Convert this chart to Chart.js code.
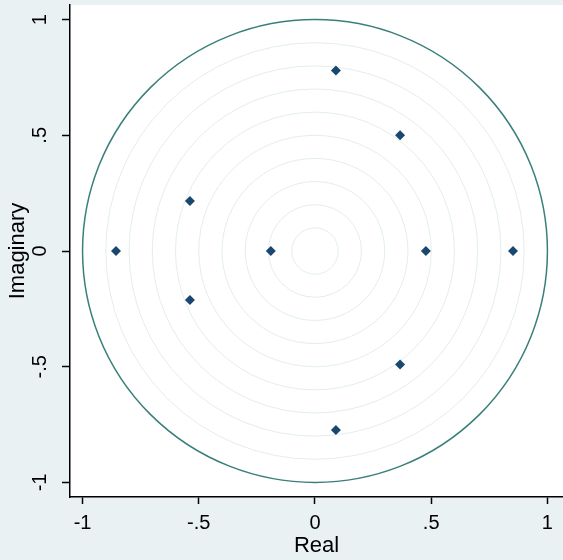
<!DOCTYPE html>
<html>
<head>
<meta charset="utf-8">
<script src="https://cdn.jsdelivr.net/npm/chart.js@4"></script>
<style>
  body { margin: 0; background: #eaf1f3; }
  #wrap { width: 563px; height: 560px; }
</style>
</head>
<body>
<div id="wrap"><canvas id="RootsChart" width="563" height="560"></canvas></div>
<script>
// eigenvalues
const realParts = [0.09, 0.366, -0.538, -0.856, -0.19, 0.477, 0.852, -0.538, 0.366, 0.09];
const imagParts = [0.78, 0.50, 0.216, 0, 0, 0, 0, -0.212, -0.49, -0.773];

const tickValues = [-1, -0.5, 0, 0.5, 1];
const tickLabels = ['-1', '-.5', '0', '.5', '1'];
const ringRadii = [0.1, 0.2, 0.3, 0.4, 0.5, 0.6, 0.7, 0.8, 0.9];
const unitRadius = 1;

const fontFamily = "Arial, 'Liberation Sans', sans-serif";

function tickText(value) {
    const i = tickValues.indexOf(value);
    return i >= 0 ? tickLabels[i] : '';
}

function noPadding(axis) {
    axis.paddingTop = 0;
    axis.paddingBottom = 0;
    axis.paddingLeft = 0;
    axis.paddingRight = 0;
}

const backgroundPlugin = {
    id: 'stataBackground',
    beforeDraw(chart) {
        const ctx = chart.ctx;
        const a = chart.chartArea;
        ctx.save();
        ctx.fillStyle = '#eaf1f3';
        ctx.fillRect(0, 0, chart.width, chart.height);
        ctx.fillStyle = '#ffffff';
        ctx.fillRect(a.left, a.top, a.right - a.left, a.bottom - a.top);
        ctx.restore();
    }
};

const circlesPlugin = {
    id: 'unitCircle',
    beforeDatasetsDraw(chart) {
        const ctx = chart.ctx;
        const xs = chart.scales.x;
        const ys = chart.scales.y;
        const cx = xs.getPixelForValue(0);
        const cy = ys.getPixelForValue(0);
        const ring = (r, color, width) => {
            const rx = xs.getPixelForValue(r) - cx;
            const ry = cy - ys.getPixelForValue(r);
            ctx.beginPath();
            ctx.ellipse(cx, cy, rx, ry, 0, 0, Math.PI * 2);
            ctx.strokeStyle = color;
            ctx.lineWidth = width;
            ctx.stroke();
        };
        ctx.save();
        ringRadii.forEach(r => ring(r, '#e3eeef', 1));
        ring(unitRadius, '#3a7f7a', 1.5);
        ctx.restore();
    }
};

function generateChart() {
    const context = document.getElementById('RootsChart').getContext('2d');
    const points = realParts.map((re, i) => ({ x: re, y: imagParts[i] }));

    new Chart(context, {
        type: 'scatter',
        data: {
            datasets: [{
                data: points,
                pointStyle: 'rectRot',
                pointRadius: 5,
                pointHoverRadius: 5,
                backgroundColor: '#1a476f',
                borderColor: '#1a476f',
                borderWidth: 0
            }]
        },
        plugins: [backgroundPlugin, circlesPlugin],
        options: {
            responsive: false,
            animation: false,
            layout: { autoPadding: false, padding: { top: 5, right: 0, left: 0, bottom: 0 } },
            plugins: {
                legend: { display: false },
                tooltip: { enabled: false }
            },
            scales: {
                x: {
                    type: 'linear',
                    min: -1.054,
                    max: 1.067,
                    afterBuildTicks: axis => { axis.ticks = tickValues.map(v => ({ value: v })); },
                    afterFit: axis => { axis.height = 63; noPadding(axis); },
                    grid: { display: true, drawOnChartArea: false, drawTicks: true, tickLength: 7, tickColor: '#000', tickWidth: 1.5 },
                    border: { display: true, color: '#000', width: 1.5 },
                    ticks: {
                        padding: 7,
                        color: '#000',
                        font: { family: fontFamily, size: 20 },
                        maxRotation: 0,
                        callback: v => tickText(v)
                    },
                    title: {
                        display: true,
                        text: 'Real',
                        color: '#000',
                        font: { family: fontFamily, size: 22 },
                        padding: { top: 0, bottom: 1 }
                    }
                },
                y: {
                    type: 'linear',
                    min: -1.063,
                    max: 1.063,
                    afterBuildTicks: axis => { axis.ticks = tickValues.map(v => ({ value: v })); },
                    afterFit: axis => { axis.width = 70; noPadding(axis); },
                    grid: { display: true, drawOnChartArea: false, drawTicks: true, tickLength: 8, tickColor: '#000', tickWidth: 1.5 },
                    border: { display: true, color: '#000', width: 1.5 },
                    ticks: {
                        padding: 10,
                        color: '#000',
                        crossAlign: 'center',
                        minRotation: 90,
                        maxRotation: 90,
                        font: { family: fontFamily, size: 20 },
                        callback: v => tickText(v)
                    },
                    title: {
                        display: true,
                        text: 'Imaginary',
                        color: '#000',
                        font: { family: fontFamily, size: 22 },
                        padding: { top: 5, bottom: 0 }
                    }
                }
            }
        }
    });
}

generateChart();
</script>
</body>
</html>
